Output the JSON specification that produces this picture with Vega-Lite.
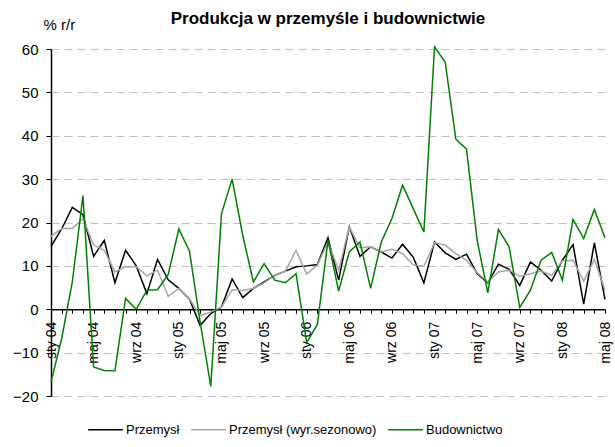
{
  "$schema": "https://vega.github.io/schema/vega-lite/v6.json",
  "width": 554,
  "height": 347,
  "autosize": {"type": "none"},
  "padding": {"left": 51, "top": 49, "right": 10, "bottom": 51},
  "background": "white",
  "config": {"font": "Liberation Sans", "view": {"stroke": null}},
  "title": {"text": "Produkcja w przemyśle i budownictwie", "fontSize": 17, "fontWeight": "bold", "color": "black", "anchor": "middle", "offset": -11},
  "data": {"values": [
    {"m":"2004-01","s":"Przemysł","v":14.5},{"m":"2004-02","s":"Przemysł","v":18.5},{"m":"2004-03","s":"Przemysł","v":23.5},{"m":"2004-04","s":"Przemysł","v":21.8},{"m":"2004-05","s":"Przemysł","v":12.2},{"m":"2004-06","s":"Przemysł","v":15.9},{"m":"2004-07","s":"Przemysł","v":6.1},{"m":"2004-08","s":"Przemysł","v":13.6},{"m":"2004-09","s":"Przemysł","v":10.0},{"m":"2004-10","s":"Przemysł","v":3.6},{"m":"2004-11","s":"Przemysł","v":11.5},{"m":"2004-12","s":"Przemysł","v":6.8},
    {"m":"2005-01","s":"Przemysł","v":4.8},{"m":"2005-02","s":"Przemysł","v":2.3},{"m":"2005-03","s":"Przemysł","v":-3.7},{"m":"2005-04","s":"Przemysł","v":-1.0},{"m":"2005-05","s":"Przemysł","v":0.5},{"m":"2005-06","s":"Przemysł","v":7.0},{"m":"2005-07","s":"Przemysł","v":2.7},{"m":"2005-08","s":"Przemysł","v":4.8},{"m":"2005-09","s":"Przemysł","v":6.3},{"m":"2005-10","s":"Przemysł","v":7.8},{"m":"2005-11","s":"Przemysł","v":8.8},{"m":"2005-12","s":"Przemysł","v":9.8},
    {"m":"2006-01","s":"Przemysł","v":10.0},{"m":"2006-02","s":"Przemysł","v":10.3},{"m":"2006-03","s":"Przemysł","v":16.5},{"m":"2006-04","s":"Przemysł","v":6.7},{"m":"2006-05","s":"Przemysł","v":19.0},{"m":"2006-06","s":"Przemysł","v":12.2},{"m":"2006-07","s":"Przemysł","v":14.4},{"m":"2006-08","s":"Przemysł","v":13.2},{"m":"2006-09","s":"Przemysł","v":11.8},{"m":"2006-10","s":"Przemysł","v":15.0},{"m":"2006-11","s":"Przemysł","v":12.0},{"m":"2006-12","s":"Przemysł","v":6.1},
    {"m":"2007-01","s":"Przemysł","v":15.5},{"m":"2007-02","s":"Przemysł","v":13.0},{"m":"2007-03","s":"Przemysł","v":11.5},{"m":"2007-04","s":"Przemysł","v":12.7},{"m":"2007-05","s":"Przemysł","v":8.2},{"m":"2007-06","s":"Przemysł","v":6.1},{"m":"2007-07","s":"Przemysł","v":10.4},{"m":"2007-08","s":"Przemysł","v":9.2},{"m":"2007-09","s":"Przemysł","v":5.5},{"m":"2007-10","s":"Przemysł","v":10.9},{"m":"2007-11","s":"Przemysł","v":9.0},{"m":"2007-12","s":"Przemysł","v":6.5},
    {"m":"2008-01","s":"Przemysł","v":11.3},{"m":"2008-02","s":"Przemysł","v":14.9},{"m":"2008-03","s":"Przemysł","v":1.2},{"m":"2008-04","s":"Przemysł","v":15.3},{"m":"2008-05","s":"Przemysł","v":2.3},
    {"m":"2004-01","s":"Przemysł (wyr.sezonowo)","v":16.8},{"m":"2004-02","s":"Przemysł (wyr.sezonowo)","v":18.6},{"m":"2004-03","s":"Przemysł (wyr.sezonowo)","v":18.6},{"m":"2004-04","s":"Przemysł (wyr.sezonowo)","v":20.9},{"m":"2004-05","s":"Przemysł (wyr.sezonowo)","v":14.8},{"m":"2004-06","s":"Przemysł (wyr.sezonowo)","v":13.6},{"m":"2004-07","s":"Przemysł (wyr.sezonowo)","v":8.6},{"m":"2004-08","s":"Przemysł (wyr.sezonowo)","v":9.8},{"m":"2004-09","s":"Przemysł (wyr.sezonowo)","v":9.8},{"m":"2004-10","s":"Przemysł (wyr.sezonowo)","v":7.7},{"m":"2004-11","s":"Przemysł (wyr.sezonowo)","v":9.0},{"m":"2004-12","s":"Przemysł (wyr.sezonowo)","v":3.0},
    {"m":"2005-01","s":"Przemysł (wyr.sezonowo)","v":4.8},{"m":"2005-02","s":"Przemysł (wyr.sezonowo)","v":2.4},{"m":"2005-03","s":"Przemysł (wyr.sezonowo)","v":-1.5},{"m":"2005-04","s":"Przemysł (wyr.sezonowo)","v":-0.6},{"m":"2005-05","s":"Przemysł (wyr.sezonowo)","v":0.5},{"m":"2005-06","s":"Przemysł (wyr.sezonowo)","v":4.5},{"m":"2005-07","s":"Przemysł (wyr.sezonowo)","v":4.4},{"m":"2005-08","s":"Przemysł (wyr.sezonowo)","v":4.8},{"m":"2005-09","s":"Przemysł (wyr.sezonowo)","v":6.1},{"m":"2005-10","s":"Przemysł (wyr.sezonowo)","v":7.8},{"m":"2005-11","s":"Przemysł (wyr.sezonowo)","v":8.8},{"m":"2005-12","s":"Przemysł (wyr.sezonowo)","v":13.6},
    {"m":"2006-01","s":"Przemysł (wyr.sezonowo)","v":8.1},{"m":"2006-02","s":"Przemysł (wyr.sezonowo)","v":10.2},{"m":"2006-03","s":"Przemysł (wyr.sezonowo)","v":15.5},{"m":"2006-04","s":"Przemysł (wyr.sezonowo)","v":9.0},{"m":"2006-05","s":"Przemysł (wyr.sezonowo)","v":19.0},{"m":"2006-06","s":"Przemysł (wyr.sezonowo)","v":14.2},{"m":"2006-07","s":"Przemysł (wyr.sezonowo)","v":14.4},{"m":"2006-08","s":"Przemysł (wyr.sezonowo)","v":13.2},{"m":"2006-09","s":"Przemysł (wyr.sezonowo)","v":13.8},{"m":"2006-10","s":"Przemysł (wyr.sezonowo)","v":12.8},{"m":"2006-11","s":"Przemysł (wyr.sezonowo)","v":10.2},{"m":"2006-12","s":"Przemysł (wyr.sezonowo)","v":9.9},
    {"m":"2007-01","s":"Przemysł (wyr.sezonowo)","v":15.3},{"m":"2007-02","s":"Przemysł (wyr.sezonowo)","v":14.8},{"m":"2007-03","s":"Przemysł (wyr.sezonowo)","v":12.8},{"m":"2007-04","s":"Przemysł (wyr.sezonowo)","v":11.3},{"m":"2007-05","s":"Przemysł (wyr.sezonowo)","v":8.4},{"m":"2007-06","s":"Przemysł (wyr.sezonowo)","v":6.3},{"m":"2007-07","s":"Przemysł (wyr.sezonowo)","v":8.6},{"m":"2007-08","s":"Przemysł (wyr.sezonowo)","v":9.0},{"m":"2007-09","s":"Przemysł (wyr.sezonowo)","v":7.6},{"m":"2007-10","s":"Przemysł (wyr.sezonowo)","v":8.2},{"m":"2007-11","s":"Przemysł (wyr.sezonowo)","v":8.8},{"m":"2007-12","s":"Przemysł (wyr.sezonowo)","v":7.8},
    {"m":"2008-01","s":"Przemysł (wyr.sezonowo)","v":11.2},{"m":"2008-02","s":"Przemysł (wyr.sezonowo)","v":11.3},{"m":"2008-03","s":"Przemysł (wyr.sezonowo)","v":6.5},{"m":"2008-04","s":"Przemysł (wyr.sezonowo)","v":11.5},{"m":"2008-05","s":"Przemysł (wyr.sezonowo)","v":4.4},
    {"m":"2004-01","s":"Budownictwo","v":-16.8},{"m":"2004-02","s":"Budownictwo","v":-6.8},{"m":"2004-03","s":"Budownictwo","v":6.3},{"m":"2004-04","s":"Budownictwo","v":26.2},{"m":"2004-05","s":"Budownictwo","v":-13.3},{"m":"2004-06","s":"Budownictwo","v":-14.1},{"m":"2004-07","s":"Budownictwo","v":-14.2},{"m":"2004-08","s":"Budownictwo","v":2.5},{"m":"2004-09","s":"Budownictwo","v":0.0},{"m":"2004-10","s":"Budownictwo","v":4.4},{"m":"2004-11","s":"Budownictwo","v":4.5},{"m":"2004-12","s":"Budownictwo","v":8.0},
    {"m":"2005-01","s":"Budownictwo","v":18.5},{"m":"2005-02","s":"Budownictwo","v":13.4},{"m":"2005-03","s":"Budownictwo","v":-3.0},{"m":"2005-04","s":"Budownictwo","v":-17.8},{"m":"2005-05","s":"Budownictwo","v":22.0},{"m":"2005-06","s":"Budownictwo","v":30.0},{"m":"2005-07","s":"Budownictwo","v":17.0},{"m":"2005-08","s":"Budownictwo","v":6.3},{"m":"2005-09","s":"Budownictwo","v":10.5},{"m":"2005-10","s":"Budownictwo","v":6.7},{"m":"2005-11","s":"Budownictwo","v":6.1},{"m":"2005-12","s":"Budownictwo","v":8.2},
    {"m":"2006-01","s":"Budownictwo","v":-7.7},{"m":"2006-02","s":"Budownictwo","v":-3.5},{"m":"2006-03","s":"Budownictwo","v":15.9},{"m":"2006-04","s":"Budownictwo","v":4.2},{"m":"2006-05","s":"Budownictwo","v":13.2},{"m":"2006-06","s":"Budownictwo","v":15.5},{"m":"2006-07","s":"Budownictwo","v":4.8},{"m":"2006-08","s":"Budownictwo","v":15.5},{"m":"2006-09","s":"Budownictwo","v":20.9},{"m":"2006-10","s":"Budownictwo","v":28.6},{"m":"2006-11","s":"Budownictwo","v":23.2},{"m":"2006-12","s":"Budownictwo","v":17.8},
    {"m":"2007-01","s":"Budownictwo","v":60.5},{"m":"2007-02","s":"Budownictwo","v":57.0},{"m":"2007-03","s":"Budownictwo","v":39.2},{"m":"2007-04","s":"Budownictwo","v":36.9},{"m":"2007-05","s":"Budownictwo","v":15.9},{"m":"2007-06","s":"Budownictwo","v":3.8},{"m":"2007-07","s":"Budownictwo","v":18.4},{"m":"2007-08","s":"Budownictwo","v":14.4},{"m":"2007-09","s":"Budownictwo","v":0.4},{"m":"2007-10","s":"Budownictwo","v":4.4},{"m":"2007-11","s":"Budownictwo","v":11.3},{"m":"2007-12","s":"Budownictwo","v":13.1},
    {"m":"2008-01","s":"Budownictwo","v":6.7},{"m":"2008-02","s":"Budownictwo","v":20.7},{"m":"2008-03","s":"Budownictwo","v":16.3},{"m":"2008-04","s":"Budownictwo","v":23.0},{"m":"2008-05","s":"Budownictwo","v":16.5}
  ]},
  "mark": {"type": "line", "strokeWidth": 1.5, "clip": false},
  "encoding": {
    "x": {
      "field": "m", "type": "ordinal",
      "scale": {"type": "point", "padding": 0},
      "axis": {
        "orient": "bottom", "offset": -86.75, "title": null, "grid": false,
        "domainColor": "black", "domainWidth": 1.5, "tickColor": "black", "tickSize": 4,
        "labelAngle": -90, "labelFontSize": 14, "labelColor": "black", "labelPadding": 8,
        "labelOverlap": false,
        "labelExpr": "substring(datum.value,5,7)=='01' ? 'sty ' + substring(datum.value,2,4) : substring(datum.value,5,7)=='05' ? 'maj ' + substring(datum.value,2,4) : substring(datum.value,5,7)=='09' ? 'wrz ' + substring(datum.value,2,4) : ''"
      }
    },
    "y": {
      "field": "v", "type": "quantitative",
      "scale": {"domain": [-20, 60], "nice": false},
      "axis": {
        "values": [-20, -10, 0, 10, 20, 30, 40, 50, 60],
        "grid": true, "gridDash": [8, 5], "gridColor": "#c0c0c0",
        "domainColor": "black", "domainWidth": 1.5, "tickColor": "black", "tickSize": 5,
        "labelFontSize": 15, "labelColor": "black", "labelPadding": 8,
        "title": "% r/r", "titleAngle": 0, "titleFontSize": 15, "titleFontWeight": "normal",
        "titleColor": "black", "titleAlign": "left", "titleBaseline": "alphabetic",
        "titleX": -8, "titleY": -20
      }
    },
    "color": {
      "field": "s", "type": "nominal",
      "scale": {"domain": ["Przemysł", "Przemysł (wyr.sezonowo)", "Budownictwo"], "range": ["#000000", "#a6a6a6", "#008000"]},
      "legend": {
        "orient": "none", "legendX": 36, "legendY": 362, "direction": "horizontal", "title": null,
        "symbolType": "stroke", "symbolSize": 1200, "symbolStrokeWidth": 1.5,
        "labelFontSize": 13, "labelColor": "black", "columnPadding": 8, "labelOffset": 2
      }
    }
  }
}
